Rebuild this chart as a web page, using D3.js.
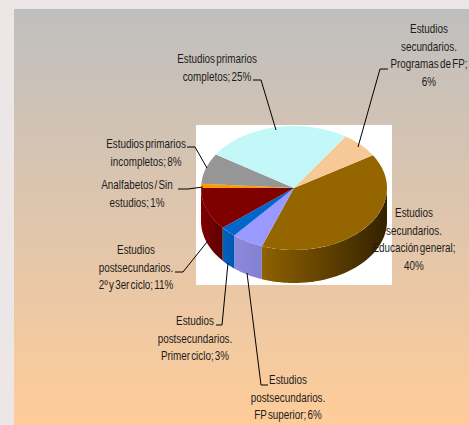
<!DOCTYPE html>
<html>
<head>
<meta charset="utf-8">
<script src="https://cdn.jsdelivr.net/npm/d3@7"></script>
<style>
html, body { margin: 0; padding: 0; background: #ece6e6; overflow: hidden; }
text { font-family: "Liberation Sans", Arial, sans-serif; font-size: 13px; fill: #1c1c1c; word-spacing: -2px; }
</style>
</head>
<body>
<div class="piechart"></div>
<script>
var categories = [
    "Estudios secundarios. Educación general",
    "Estudios postsecundarios. FP superior",
    "Estudios postsecundarios. Primer ciclo",
    "Estudios postsecundarios. 2º y 3er ciclo",
    "Analfabetos / Sin estudios",
    "Estudios primarios incompletos",
    "Estudios primarios completos",
    "Estudios secundarios. Programas de FP"
];
// measured from the slice angles, the labels round them
var values = [39.5, 5.5, 2.8, 11.1, 1.1, 8, 25.3, 6.7];
var topColors = ["#956500", "#9999ff", "#0066cc", "#800000", "#ff9900", "#969696", "#c4f7f7", "#f6c996"];
var sideLight = ["#8f6100", "#8c88dc", "#0060c0", "#800000", "#e08800", "#808080", "#a8d8d8", "#d8ae80"];
var sideDark = ["#332200", "#8480d0", "#0058b0", "#5c0000", "#b06a00", "#606060", "#88b0b0", "#b08c60"];

// label text, broken the way the chart breaks it
var labelLines = [
    ["Estudios", "secundarios.", "Educación general;", "40%"],
    ["Estudios", "postsecundarios.", "FP superior; 6%"],
    ["Estudios", "postsecundarios.", "Primer ciclo; 3%"],
    ["Estudios", "postsecundarios.", "2º y 3er ciclo; 11%"],
    ["Analfabetos / Sin", "estudios; 1%"],
    ["Estudios primarios", "incompletos; 8%"],
    ["Estudios primarios", "completos; 25%"],
    ["Estudios", "secundarios.", "Programas de FP;", "6%"]
];
var labelX = [414, 288, 195, 136, 137, 146, 217, 429];
var labelY = [217, 384, 325, 254, 189, 148, 63, 33];
var leaders = [
    null,
    [[268, 385], [261, 385], [247, 273]],
    [[216, 325], [222, 325], [228, 263]],
    [[175, 272], [183, 272], [207, 242]],
    [[178, 189], [188, 189], [203, 187]],
    [[187, 147], [195, 147], [207, 168]],
    [[253, 80], [261, 80], [276, 130]],
    [[388, 69], [380, 69], [358, 147]]
];

var w = 469;
var h = 425;
var cx = 294;
var cy = 188;
var rx = 93;
var ry = 62;
var depth = 33;
var startAngle = 58 * Math.PI / 180;

var svg = d3.select(".piechart")
            .append("svg")
            .attr("width", w)
            .attr("height", h)
            .style("display", "block");

var defs = svg.append("defs");
var bg = defs.append("linearGradient")
             .attr("id", "panel")
             .attr("x1", 0).attr("y1", 0)
             .attr("x2", 0).attr("y2", 1);
bg.append("stop").attr("offset", "0%").attr("stop-color", "#bfbfbf");
bg.append("stop").attr("offset", "100%").attr("stop-color", "#ffcc99");

svg.append("rect")
   .attr("x", 14).attr("y", 9)
   .attr("width", w - 14).attr("height", h - 9)
   .attr("fill", "url(#panel)");

svg.append("rect")
   .attr("x", 196).attr("y", 125)
   .attr("width", 196).attr("height", 160)
   .attr("fill", "white");

var pie = d3.pie()
            .sort(null)
            .startAngle(startAngle)
            .endAngle(startAngle + 2 * Math.PI);
var arcs = pie(values);

// pie angle to a point on the tilted rim
function rimX(a) { return cx + rx * Math.sin(a); }
function rimY(a) { return cy - ry * Math.cos(a); }

// side wall, only the part of each slice facing the viewer
var frontStart = Math.PI / 2;
var frontEnd = 3 * Math.PI / 2;
var wallLine = d3.line().x(function(d) { return d[0]; }).y(function(d) { return d[1]; });

arcs.forEach(function(d, i) {
    var a0 = Math.max(d.startAngle, frontStart);
    var a1 = Math.min(d.endAngle, frontEnd);
    if (a1 <= a0) return;
    var grad = defs.append("linearGradient")
                   .attr("id", "side" + i)
                   .attr("gradientUnits", "userSpaceOnUse")
                   .attr("x1", rimX(a1)).attr("y1", 0)
                   .attr("x2", rimX(a0)).attr("y2", 0);
    grad.append("stop").attr("offset", "0%").attr("stop-color", sideLight[i]);
    grad.append("stop").attr("offset", "100%").attr("stop-color", sideDark[i]);
    var angles = d3.range(a0, a1, 0.02).concat([a1]);
    var upper = angles.map(function(a) { return [rimX(a), rimY(a)]; });
    var lower = angles.slice().reverse().map(function(a) { return [rimX(a), rimY(a) + depth]; });
    svg.append("path")
       .attr("d", wallLine(upper.concat(lower)) + "Z")
       .attr("fill", "url(#side" + i + ")");
});

var arc = d3.arc().innerRadius(0).outerRadius(rx);
svg.append("g")
   .attr("transform", "translate(" + cx + "," + cy + ") scale(1," + (ry / rx) + ")")
   .selectAll("path")
   .data(arcs)
   .enter()
   .append("path")
   .attr("d", arc)
   .attr("fill", function(d, i) { return topColors[i]; });

var leaderLine = d3.line();
svg.selectAll(".leader")
   .data(leaders.filter(function(d) { return d; }))
   .enter()
   .append("path")
   .attr("class", "leader")
   .attr("d", leaderLine)
   .attr("fill", "none")
   .attr("stroke", "black")
   .attr("stroke-width", 1);

// Arial narrowed to the squeezed look of the original labels
var squeeze = 0.76;
labelLines.forEach(function(lines, i) {
    var g = svg.append("g")
               .attr("class", "label")
               .attr("aria-label", categories[i]);
    lines.forEach(function(t, j) {
        g.append("text")
         .attr("text-anchor", "middle")
         .attr("transform", "translate(" + labelX[i] + "," + (labelY[i] + j * 17.5) + ") scale(" + squeeze + ",1)")
         .text(t);
    });
});
</script>
</body>
</html>
